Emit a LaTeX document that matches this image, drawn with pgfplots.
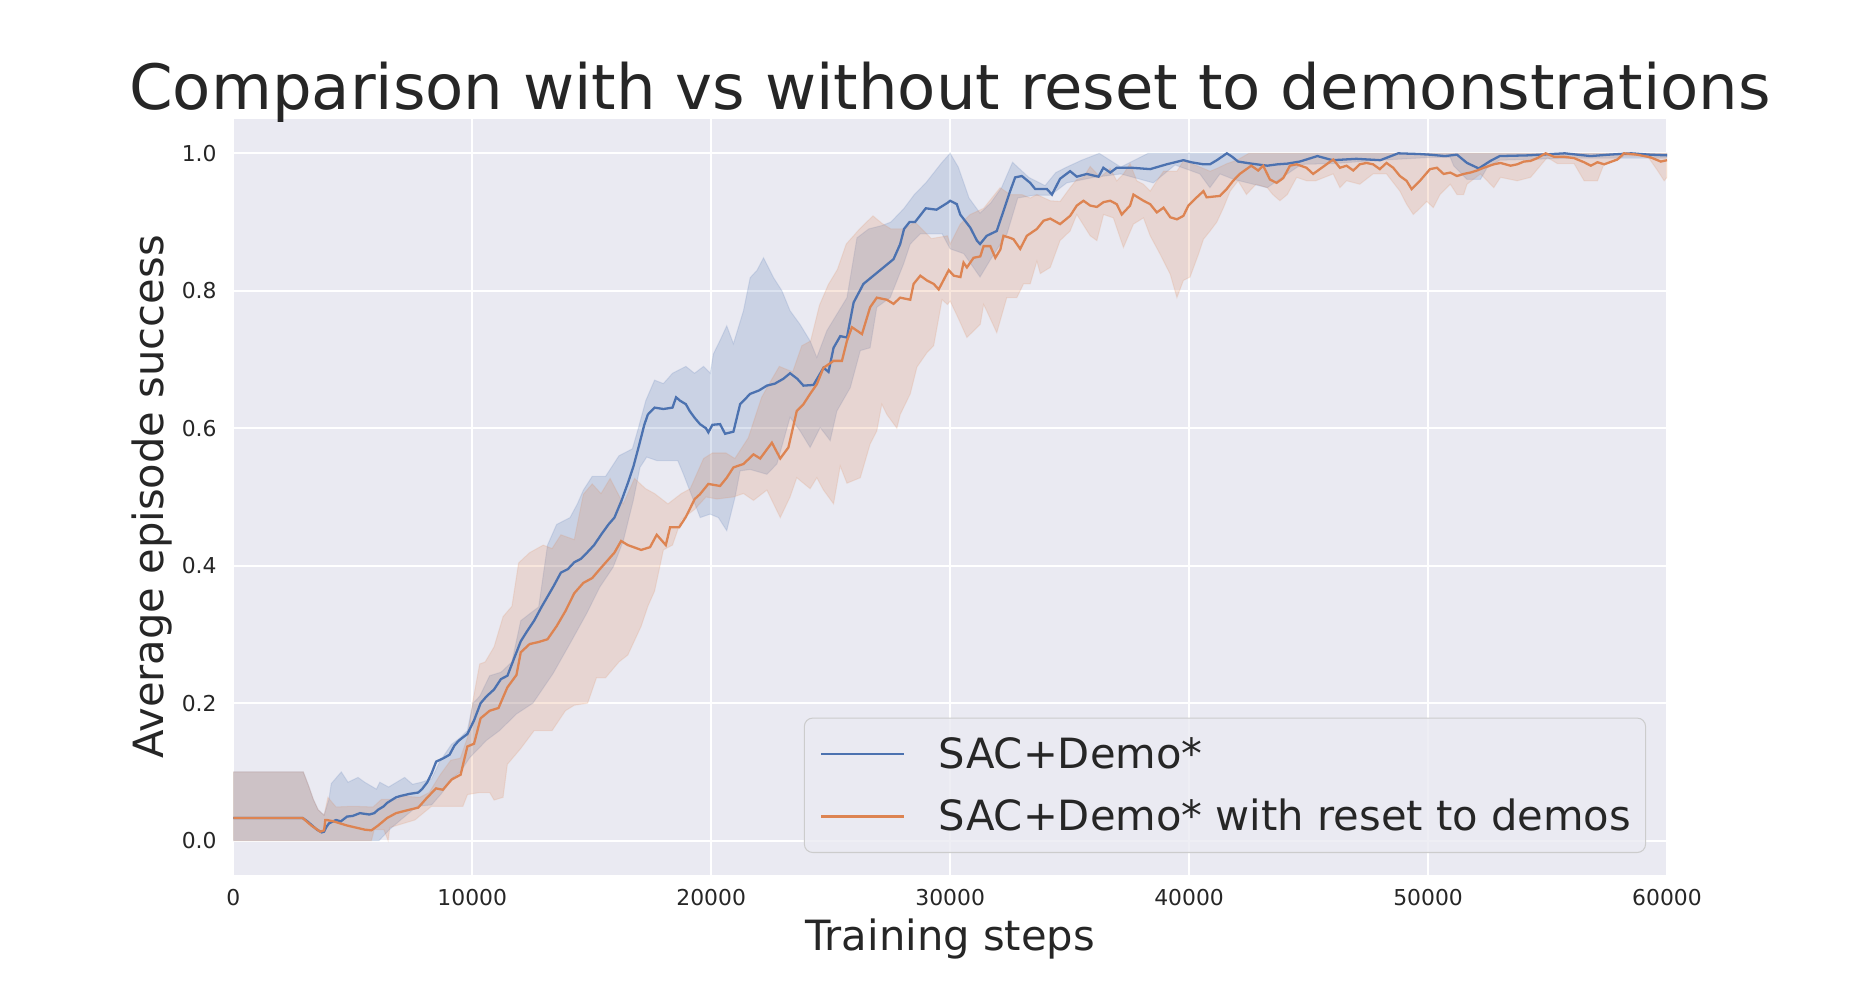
\documentclass[border=0pt]{standalone}
\usepackage{fontspec}
\setmainfont{DejaVu Sans}
\usepackage{pgfplots}
\usepackage{pgfplotstable}
\pgfplotsset{compat=1.18}
\usepgfplotslibrary{fillbetween}
\definecolor{sbblue}{HTML}{4C72B0}
\definecolor{sborange}{HTML}{DD8452}
\definecolor{sbbg}{HTML}{EAEAF2}
\definecolor{txt}{HTML}{262626}
\definecolor{legedge}{HTML}{CCCCCC}

% SAC+Demo* mean
\pgfplotstableread{
x y
0 0.033
2900 0.033
3100 0.028
3300 0.022
3500 0.016
3700 0.012
3800 0.013
3900 0.02
4000 0.025
4300 0.03
4500 0.028
4760 0.035
5000 0.036
5300 0.04
5690 0.038
5900 0.04
6060 0.045
6300 0.05
6440 0.055
6810 0.063
7000 0.065
7370 0.068
7740 0.07
7900 0.075
8120 0.085
8300 0.098
8490 0.115
8800 0.12
9050 0.125
9250 0.138
9420 0.145
9600 0.15
9795 0.155
10075 0.175
10350 0.2
10600 0.21
10914 0.22
11200 0.235
11474 0.24
11750 0.265
12030 0.29
12300 0.305
12590 0.32
12900 0.34
13150 0.355
13400 0.37
13710 0.39
14000 0.395
14270 0.405
14550 0.41
14830 0.42
15100 0.43
15390 0.445
15700 0.46
15950 0.47
16250 0.495
16510 0.52
16750 0.545
16980 0.575
17200 0.605
17350 0.62
17630 0.63
18000 0.628
18380 0.63
18530 0.645
18700 0.64
18940 0.635
19100 0.625
19310 0.615
19530 0.606
19780 0.6
19880 0.594
20050 0.605
20370 0.606
20580 0.592
20930 0.595
21210 0.635
21630 0.65
22000 0.655
22330 0.662
22670 0.665
23020 0.672
23300 0.68
23600 0.672
23860 0.662
24280 0.663
24700 0.688
24910 0.682
25120 0.717
25400 0.734
25680 0.732
25960 0.783
26370 0.81
26790 0.822
27210 0.834
27630 0.846
27910 0.868
28070 0.89
28300 0.9
28530 0.9
28980 0.92
29430 0.918
29890 0.928
30000 0.931
30280 0.926
30420 0.911
30840 0.892
31120 0.873
31250 0.868
31530 0.88
31950 0.887
32230 0.916
32510 0.945
32720 0.965
33000 0.967
33350 0.957
33560 0.948
34050 0.948
34260 0.94
34600 0.963
35020 0.974
35300 0.966
35720 0.97
36210 0.966
36410 0.979
36700 0.972
36970 0.979
37600 0.979
38370 0.977
39060 0.984
39760 0.99
40090 0.987
40600 0.984
40870 0.984
41160 0.99
41580 1.0
41800 0.995
42050 0.988
42610 0.985
43270 0.982
43700 0.984
44110 0.985
44630 0.988
45370 0.996
46000 0.99
47000 0.992
48000 0.99
48750 1.0
49610 0.999
50090 0.998
50700 0.996
51210 0.998
51630 0.986
52120 0.978
52610 0.989
53000 0.996
54150 0.997
55720 1.0
56800 0.996
57550 0.998
58500 1.0
59300 0.998
60000 0.997
}\bmean

\pgfplotstableread{
x y
0 0.1
2930 0.1
3150 0.08
3350 0.06
3550 0.045
3800 0.037
4000 0.06
4100 0.083
4520 0.1
4800 0.085
5220 0.092
5500 0.085
5990 0.075
6130 0.085
6500 0.078
7170 0.092
7500 0.082
7870 0.085
8300 0.09
8640 0.115
9130 0.14
9500 0.15
9795 0.16
10030 0.2
10310 0.21
10730 0.24
11200 0.245
11660 0.26
12030 0.32
12400 0.33
12780 0.34
13150 0.43
13530 0.46
14090 0.47
14400 0.49
14650 0.51
15020 0.53
15580 0.53
16140 0.56
16700 0.57
16950 0.6
17260 0.64
17630 0.67
18000 0.665
18380 0.68
18940 0.69
19300 0.68
19680 0.69
19960 0.68
20090 0.708
20400 0.73
20650 0.749
20930 0.723
21350 0.771
21630 0.819
21920 0.83
22190 0.848
22610 0.819
22960 0.8
23300 0.771
23720 0.751
24140 0.727
24420 0.703
24840 0.742
25260 0.766
25680 0.79
26100 0.877
26590 0.89
27150 0.895
27520 0.9
28070 0.92
28500 0.94
28980 0.957
29660 0.987
30000 1.0
30340 0.98
30790 0.935
31250 0.913
31700 0.928
32150 0.95
32610 0.987
33290 0.965
33970 0.953
34420 0.972
34880 0.98
35500 0.99
36240 1.0
37140 0.98
38280 1.0
60000 1.0
}\bupper

\pgfplotstableread{
x y
0 0
6100 0
6500 0.015
7000 0.03
7700 0.05
8300 0.052
8700 0.068
9200 0.092
9500 0.1
9900 0.121
10600 0.146
11140 0.16
11840 0.184
12540 0.2
13380 0.243
14080 0.286
14780 0.33
15340 0.369
15900 0.398
16320 0.436
16740 0.495
17020 0.543
17300 0.558
17720 0.553
18280 0.553
18600 0.553
18840 0.533
19260 0.495
19540 0.47
19950 0.475
20300 0.47
20650 0.451
21000 0.5
21210 0.538
21630 0.54
22330 0.533
22750 0.548
23300 0.616
23720 0.596
24140 0.572
24560 0.601
24980 0.582
25260 0.625
25820 0.659
26240 0.713
26650 0.717
26930 0.776
27490 0.79
28050 0.839
28330 0.868
28750 0.883
29660 0.883
30000 0.861
30570 0.854
31250 0.82
31700 0.846
32380 0.883
32830 0.935
33510 0.939
34200 0.939
34880 0.957
36010 0.965
37140 0.97
38500 0.957
39410 0.983
40450 0.97
40870 0.95
41290 0.97
41870 0.962
43270 0.95
44110 0.97
44700 0.984
46000 0.985
48000 0.99
50090 0.994
50930 0.994
51070 0.982
51630 0.962
52190 0.962
52470 0.979
53000 0.99
56000 0.993
60000 0.993
}\blower

% SAC+Demo* with reset to demos
\pgfplotstableread{
x y
0 0.033
2900 0.033
3265 0.022
3640 0.013
3800 0.015
3850 0.03
3920 0.03
4200 0.028
4760 0.022
5500 0.016
5780 0.015
6060 0.022
6440 0.033
6810 0.04
7370 0.045
7740 0.048
8120 0.063
8490 0.076
8770 0.074
9140 0.089
9515 0.096
9795 0.137
10075 0.141
10350 0.178
10730 0.189
11100 0.193
11470 0.223
11850 0.241
12030 0.274
12400 0.286
12780 0.289
13150 0.293
13530 0.312
13900 0.334
14270 0.36
14650 0.375
15020 0.382
15390 0.397
15950 0.419
16230 0.436
16510 0.43
17070 0.423
17440 0.427
17720 0.445
18100 0.43
18280 0.456
18660 0.456
18940 0.471
19310 0.497
19530 0.504
19880 0.519
20370 0.516
20650 0.528
20930 0.543
21350 0.548
21770 0.562
22050 0.556
22540 0.579
22890 0.556
23230 0.572
23580 0.625
23860 0.635
24140 0.65
24420 0.664
24700 0.688
25120 0.698
25470 0.698
25680 0.727
25890 0.747
26310 0.737
26650 0.776
26930 0.79
27350 0.787
27630 0.781
27910 0.79
28330 0.787
28470 0.81
28750 0.822
29030 0.815
29310 0.81
29520 0.802
29940 0.83
30150 0.822
30430 0.82
30560 0.841
30700 0.834
30980 0.848
31260 0.85
31400 0.865
31680 0.865
31890 0.848
32100 0.86
32230 0.88
32510 0.877
32650 0.875
32930 0.861
33210 0.88
33630 0.89
33910 0.902
34190 0.905
34600 0.897
35020 0.909
35300 0.924
35580 0.931
35860 0.924
36140 0.922
36420 0.929
36700 0.931
36970 0.926
37180 0.911
37530 0.924
37670 0.94
38090 0.931
38370 0.926
38650 0.914
38930 0.921
39210 0.907
39490 0.904
39760 0.909
39970 0.924
40320 0.936
40600 0.945
40730 0.936
41290 0.938
41570 0.948
41840 0.96
42120 0.97
42400 0.977
42600 0.982
42890 0.975
43100 0.982
43380 0.962
43660 0.957
43940 0.964
44220 0.982
44500 0.984
44910 0.979
45190 0.97
45470 0.977
45750 0.984
46030 0.991
46310 0.979
46590 0.982
46870 0.975
47140 0.984
47420 0.986
47700 0.984
47980 0.977
48260 0.986
48540 0.979
48820 0.967
49100 0.96
49310 0.948
49660 0.96
50080 0.977
50370 0.979
50650 0.97
50930 0.972
51210 0.967
51490 0.97
51770 0.972
52050 0.975
52330 0.979
52750 0.984
53030 0.986
53450 0.982
53730 0.984
54010 0.988
54290 0.989
54570 0.993
54920 1.0
55270 0.995
55690 0.995
56110 0.993
56530 0.987
56810 0.982
57090 0.987
57370 0.984
57920 0.991
58200 1.0
58760 0.998
59320 0.994
59740 0.988
60000 0.99
}\omean

\pgfplotstableread{
x y
0 0.1
2930 0.1
3150 0.08
3350 0.06
3550 0.045
3800 0.037
3960 0.063
4300 0.049
5000 0.05
5850 0.049
6200 0.06
6900 0.06
7000 0.065
7800 0.063
8200 0.07
8640 0.095
9100 0.117
9500 0.12
9800 0.15
10030 0.204
10310 0.257
10540 0.26
10914 0.282
11290 0.326
11660 0.341
11940 0.404
12400 0.419
12970 0.43
13340 0.425
13710 0.445
14270 0.438
14650 0.504
15020 0.519
15390 0.505
15770 0.527
16320 0.49
16790 0.527
17260 0.512
17630 0.505
18190 0.49
18750 0.505
19120 0.512
19680 0.556
20050 0.564
20620 0.564
20990 0.556
21550 0.586
22110 0.645
22480 0.668
22850 0.69
23410 0.682
23790 0.72
24160 0.727
24530 0.779
24900 0.809
25280 0.831
25650 0.868
26210 0.89
26770 0.909
27150 0.898
27520 0.89
28070 0.89
28530 0.9
29210 0.876
29890 0.88
30000 0.868
30420 0.897
30840 0.911
31400 0.92
32090 0.95
32510 0.94
33000 0.94
33350 0.935
33630 0.94
34190 0.931
34600 0.93
35020 0.95
35300 0.962
35580 0.965
35860 0.981
36280 0.965
36700 0.978
36970 0.96
37250 0.97
37530 0.985
37810 0.96
38090 0.955
38370 0.945
38650 0.96
38930 0.974
39490 0.974
39760 0.989
40320 0.982
40880 0.974
41160 0.978
41580 0.985
42000 0.99
42500 1.0
60000 1.0
}\oupper

\pgfplotstableread{
x y
0 0
5780 0
5900 0.016
6300 0.016
6480 0
6550 0.019
7600 0.03
8300 0.05
9610 0.05
9800 0.067
10310 0.07
10730 0.07
10914 0.059
11290 0.063
11470 0.111
12030 0.134
12590 0.16
13340 0.16
13900 0.189
14270 0.197
14830 0.2
15200 0.237
15580 0.237
16140 0.26
16510 0.27
17070 0.312
17350 0.341
17630 0.363
18000 0.423
18380 0.43
18750 0.467
19310 0.482
19780 0.5
20240 0.497
20930 0.5
21350 0.505
21770 0.495
22330 0.51
22890 0.47
23300 0.5
23580 0.528
24140 0.512
24420 0.528
24700 0.51
25120 0.49
25400 0.545
25680 0.52
26240 0.528
26650 0.577
26930 0.596
27140 0.635
27350 0.62
27770 0.6
27910 0.62
28330 0.65
28610 0.689
29030 0.71
29310 0.72
29660 0.787
29890 0.78
30000 0.785
30340 0.76
30700 0.732
31260 0.751
31400 0.78
31540 0.77
31950 0.739
32370 0.79
32790 0.79
33070 0.81
33350 0.81
33630 0.843
33770 0.825
34190 0.834
34600 0.873
35020 0.887
35300 0.911
35860 0.88
36140 0.873
36420 0.911
36830 0.906
37250 0.863
37670 0.897
38090 0.906
38370 0.88
38790 0.853
39210 0.824
39490 0.79
39760 0.815
40040 0.82
40390 0.853
40600 0.875
40880 0.887
41160 0.9
41440 0.921
41720 0.945
42050 0.96
42400 0.94
42800 0.955
43270 0.95
43500 0.94
43800 0.931
44110 0.94
44500 0.965
44920 0.96
45300 0.96
46030 0.97
46310 0.95
46590 0.96
47140 0.955
47700 0.97
48260 0.97
48820 0.945
49100 0.926
49380 0.911
49660 0.92
49940 0.93
50220 0.921
50500 0.94
50930 0.955
51210 0.94
51490 0.94
51630 0.955
52190 0.97
52750 0.95
53030 0.965
53730 0.96
54290 0.965
54990 0.994
55410 0.985
56110 0.985
56530 0.96
57090 0.96
57370 0.985
57920 0.99
58200 0.996
59180 0.996
59600 0.975
59880 0.96
60000 0.965
}\olower

\begin{document}
\begin{tikzpicture}
\begin{axis}[
  name=ax, at={(0,0)}, anchor=south west,
  scale only axis, width=688.2pt, height=362.9pt,
  xmin=0, xmax=60000, ymin=-0.05, ymax=1.05,
  axis background/.style={fill=sbbg},
  axis line style={draw=none},
  major tick length=0pt,
  grid=major, grid style={white, line width=0.95pt},
  xtick={0,10000,20000,30000,40000,50000,60000},
  ytick={0,0.2,0.4,0.6,0.8,1.0},
  scaled x ticks=false, scaled y ticks=false,
  /pgf/number format/assume math mode=true,
  xticklabel style={/pgf/number format/1000 sep={}, font=\fontsize{10.5}{12}\selectfont, text=txt, inner sep=0pt, anchor=north, yshift=-6.7pt},
  yticklabel style={/pgf/number format/fixed, /pgf/number format/fixed zerofill, /pgf/number format/precision=1, font=\fontsize{10.5}{12}\selectfont, text=txt, inner sep=0pt, anchor=east, xshift=-7.8pt},
  legend style={at={(0.9854,0.0291)}, anchor=south east, draw=legedge, line width=0.5pt, rounded corners=4pt, fill=sbbg, fill opacity=0.8, text opacity=1, text=txt, font=\fontsize{20}{24}\selectfont, inner xsep=7.5pt, inner ysep=7pt, row sep=9.5pt, column sep=0pt, cells={anchor=west, inner sep=0pt, text height=15pt, text depth=0pt}},
  /tikz/every odd column/.append style={column sep=14pt},
  legend image code/.code={\draw[#1, line width=1.1pt] (0pt,0pt) -- (40pt,0pt);},
  legend cell align=left,
]
\addplot[name path=bu, draw=none, forget plot] table {\bupper};
\addplot[name path=bl, draw=none, forget plot] table {\blower};
\addplot[fill=sbblue, fill opacity=0.2, draw=sbblue, draw opacity=0.15, line width=0.5pt, forget plot] fill between[of=bu and bl];
\addplot[name path=ou, draw=none, forget plot] table {\oupper};
\addplot[name path=ol, draw=none, forget plot] table {\olower};
\addplot[fill=sborange, fill opacity=0.2, draw=sborange, draw opacity=0.15, line width=0.5pt, forget plot] fill between[of=ou and ol];
\addplot[sbblue, line width=1.1pt] table {\bmean};
\addlegendentry{SAC+Demo*}
\addplot[sborange, line width=1.1pt] table {\omean};
\addlegendentry{SAC+Demo* with reset to demos\hspace*{-2.6pt}}
\end{axis}
\node[anchor=south, inner sep=0pt, text=txt, font=\fontsize{30}{36}\selectfont] at (344.1pt,361.0pt) {Comparison with vs without reset to demonstrations};
\node[anchor=base, inner sep=0pt, text=txt, font=\fontsize{20}{24}\selectfont] at (344.1pt,-36pt) {Training steps};
\node[anchor=base, rotate=90, inner sep=0pt, text=txt, font=\fontsize{20}{24}\selectfont] at (-33.3pt,181.45pt) {Average episode success};
\pgfresetboundingbox
\path[use as bounding box] (-111.98pt,-51.84pt) rectangle (777.46pt,420pt);
\end{tikzpicture}
\end{document}
